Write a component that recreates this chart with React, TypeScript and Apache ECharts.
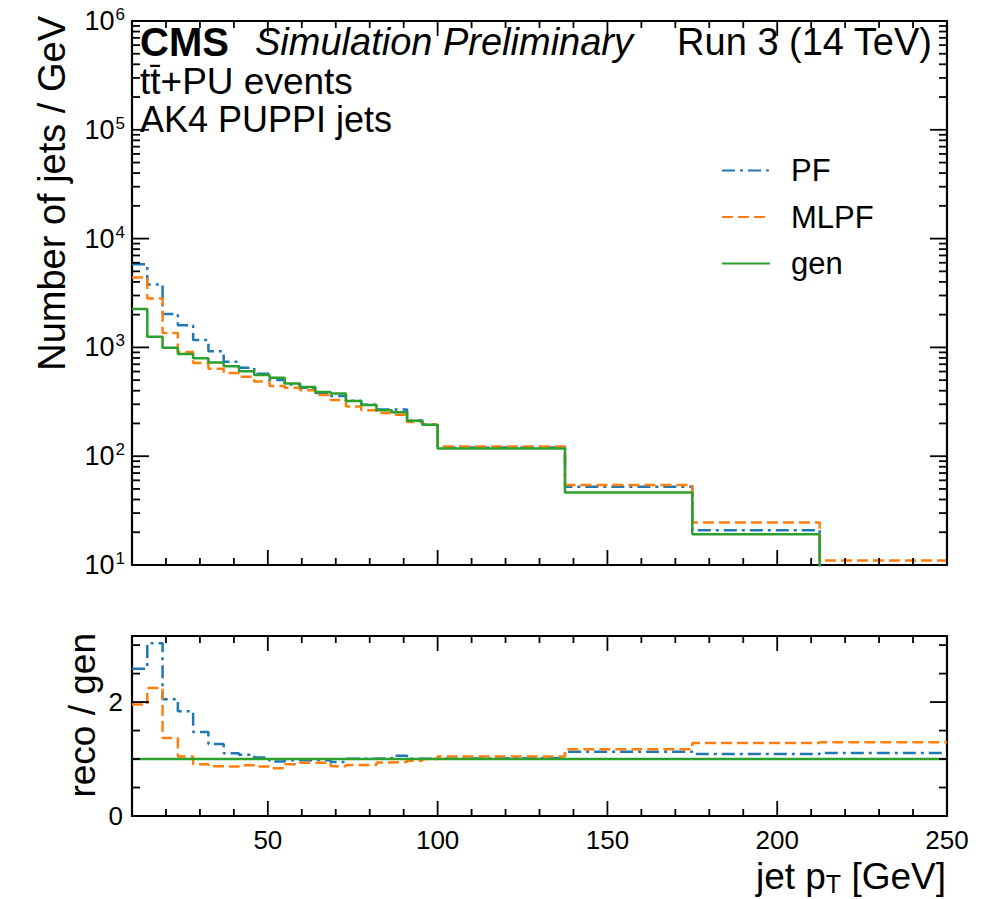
import React, { useEffect, useRef } from "react";
import * as echarts from "echarts";

// ---- data ----
const binEdges = [10, 14.5, 19, 23.5, 28, 32.5, 37, 41.5, 46, 50.5, 55, 59.5, 64, 68.5, 73, 77.5, 82, 86.5, 91, 95.5, 100, 137.5, 175, 212.5, 250];
const genCounts = [2250, 1250, 990, 870, 793, 728, 672, 604, 558, 525, 467, 433, 389, 376, 321, 296, 265, 254, 212, 195, 118, 46.5, 19.2, 8.5];
const pfCounts = [5820, 3790, 2030, 1600, 1170, 920, 740, 650, 572, 502, 457, 425, 380, 357, 323, 297, 268, 269, 213, 196, 120, 52.5, 20.9, 9.4];
const mlpfCounts = [4400, 2810, 1355, 908, 720, 635, 583, 538, 485, 441, 425, 404, 365, 328, 287, 265, 249, 241, 206, 195, 123, 54.4, 24.6, 11.0];
const seriesNames = ["PF", "MLPF", "gen"];
const xTicks = [10, 20, 30, 40, 50, 60, 70, 80, 90, 100, 110, 120, 130, 140, 150, 160, 170, 180, 190, 200, 210, 220, 230, 240, 250];
const xLabelValues = [50, 100, 150, 200, 250];
const logDecades = [1, 2, 3, 4, 5, 6];
const logMinorFactors = [2, 3, 4, 5, 6, 7, 8, 9];
const ratioTicks = [0, 0.5, 1, 1.5, 2, 2.5, 3];
const ratioLabelValues = [0, 2];

const FONT = '"Liberation Sans", Arial, Helvetica, sans-serif';
const COLORS = { PF: "#1f77b4", MLPF: "#ff7f0e", gen: "#2ca02c" };
const DASH = { PF: [13, 5, 3, 5], MLPF: [11, 5], gen: "solid" };

function stairs(counts: number[]) {
  const pts: number[][] = [];
  counts.forEach((c, i) => {
    pts.push([binEdges[i], c]);
    pts.push([binEdges[i + 1], c]);
  });
  return pts;
}

export default function App() {
  const ref = useRef<HTMLDivElement>(null);
  useEffect(() => {
    if (!ref.current) return;
    const chart = echarts.init(ref.current, null, { renderer: "svg" });

    const countsByName: Record<string, number[]> = { PF: pfCounts, MLPF: mlpfCounts, gen: genCounts };

    const ticks0: number[][] = [];
    xTicks.forEach((v) => ticks0.push([v, 100, v % 50 === 0 ? 15 : 7, 0]));
    logDecades.forEach((e) => {
      ticks0.push([100, Math.pow(10, e), 17, 1]);
      if (e < 6) logMinorFactors.forEach((k) => ticks0.push([100, k * Math.pow(10, e), 8, 1]));
    });
    const ticks1: number[][] = [];
    xTicks.forEach((v) => ticks1.push([v, 1, v % 50 === 0 ? 15 : 7, 0]));
    ratioTicks.forEach((v) => ticks1.push([100, v, v % 2 === 0 ? 17 : 8, 1]));

    const tickRender = (params: any, api: any) => {
      const cs = params.coordSys;
      const len = api.value(2);
      const kind = api.value(3);
      const p = api.coord([api.value(0), api.value(1)]);
      const style = { stroke: "#000", lineWidth: 1.8 };
      if (kind === 0) {
        return {
          type: "group",
          children: [
            { type: "line", shape: { x1: p[0], y1: cs.y + cs.height, x2: p[0], y2: cs.y + cs.height - len }, style },
            { type: "line", shape: { x1: p[0], y1: cs.y, x2: p[0], y2: cs.y + len }, style },
          ],
        };
      }
      return {
        type: "group",
        children: [
          { type: "line", shape: { x1: cs.x, y1: p[1], x2: cs.x + len, y2: p[1] }, style },
          { type: "line", shape: { x1: cs.x + cs.width, y1: p[1], x2: cs.x + cs.width - len, y2: p[1] }, style },
        ],
      };
    };

    const lineSeries: any[] = [];
    seriesNames.forEach((name) => {
      lineSeries.push({
        name,
        type: "line",
        xAxisIndex: 0,
        yAxisIndex: 0,
        data: stairs(countsByName[name]),
        showSymbol: false,
        symbol: "none",
        clip: true,
        color: (COLORS as any)[name],
        lineStyle: { width: 2.5, color: (COLORS as any)[name], type: (DASH as any)[name] },
      });
    });
    seriesNames.forEach((name) => {
      const ratio = countsByName[name].map((c, i) => c / genCounts[i]);
      lineSeries.push({
        name,
        type: "line",
        xAxisIndex: 1,
        yAxisIndex: 1,
        data: stairs(ratio),
        showSymbol: false,
        symbol: "none",
        clip: true,
        color: (COLORS as any)[name],
        lineStyle: { width: 2.5, color: (COLORS as any)[name], type: (DASH as any)[name] },
      });
    });

    const labelBase = { fontFamily: FONT, color: "#000" };

    chart.setOption({
      animation: false,
      backgroundColor: "#fff",
      grid: [
        { left: 132, top: 21, width: 815, height: 544, show: true, borderColor: "#000", borderWidth: 2.2, backgroundColor: "transparent" },
        { left: 132, top: 636, width: 815, height: 180, show: true, borderColor: "#000", borderWidth: 2.2, backgroundColor: "transparent" },
      ],
      xAxis: [
        {
          type: "value", gridIndex: 0, min: 10, max: 250, interval: 10,
          axisLine: { show: false }, axisTick: { show: false }, splitLine: { show: false }, axisLabel: { show: false },
        },
        {
          type: "value", gridIndex: 1, min: 10, max: 250, interval: 10,
          axisLine: { show: false }, axisTick: { show: false }, splitLine: { show: false },
          axisLabel: {
            ...labelBase, fontSize: 26, margin: 11, showMaxLabel: true, showMinLabel: true, hideOverlap: false,
            formatter: (v: number) => (xLabelValues.indexOf(Math.round(v)) >= 0 ? String(Math.round(v)) : ""),
          },
        },
      ],
      yAxis: [
        {
          type: "log", logBase: 10, gridIndex: 0, min: 10, max: 1e6, splitNumber: 5,
          axisLine: { show: false }, axisTick: { show: false }, splitLine: { show: false },
          axisLabel: {
            ...labelBase, margin: 7,
            formatter: (v: number) => {
              const e = Math.round(Math.log10(v));
              return logDecades.indexOf(e) >= 0 ? `{b|10}{s|${e}}` : "";
            },
            rich: {
              b: { fontFamily: FONT, fontSize: 27, color: "#000" },
              s: { fontFamily: FONT, fontSize: 17, color: "#000", padding: [0, 0, 13, 1] },
            },
          },
        },
        {
          type: "value", gridIndex: 1, min: 0, max: 3.16, interval: 0.5,
          axisLine: { show: false }, axisTick: { show: false }, splitLine: { show: false },
          axisLabel: {
            ...labelBase, fontSize: 26, margin: 9,
            formatter: (v: number) => (ratioLabelValues.indexOf(v) >= 0 ? String(v) : ""),
          },
        },
      ],
      legend: {
        data: seriesNames,
        orient: "vertical",
        left: 716,
        top: 150,
        itemWidth: 48,
        itemHeight: 16,
        itemGap: 15.5,
        selectedMode: false,
        itemStyle: { opacity: 0 },
        textStyle: { fontFamily: FONT, fontSize: 31, lineHeight: 31, color: "#000", padding: [0, 0, 0, 16] },
      },
      series: [
        ...lineSeries,
        {
          type: "custom", xAxisIndex: 0, yAxisIndex: 0, data: ticks0, renderItem: tickRender,
          dimensions: ["x", "y", "len", "kind"], encode: { x: "x", y: "y" }, silent: true, z: 5,
        },
        {
          type: "custom", xAxisIndex: 1, yAxisIndex: 1, data: ticks1, renderItem: tickRender,
          dimensions: ["x", "y", "len", "kind"], encode: { x: "x", y: "y" }, silent: true, z: 5,
        },
      ],
      graphic: [
        { type: "text", x: 140, y: 42, style: { text: "CMS", fontFamily: FONT, fontSize: 40, fontWeight: "bold", fill: "#000", lineHeight: 30, textVerticalAlign: "middle" } },
        { type: "text", x: 255, y: 42, style: { text: "Simulation Preliminary", fontFamily: FONT, fontSize: 38, fontStyle: "italic", fill: "#000", lineHeight: 30, textVerticalAlign: "middle" } },
        { type: "text", x: 932, y: 42, style: { text: "Run 3 (14 TeV)", fontFamily: FONT, fontSize: 38, fill: "#000", lineHeight: 30, textAlign: "right", textVerticalAlign: "middle" } },
        { type: "text", x: 140, y: 81, style: { text: "tt\u0304+PU events", fontFamily: FONT, fontSize: 37, fill: "#000", lineHeight: 30, textVerticalAlign: "middle" } },
        { type: "text", x: 140, y: 119, style: { text: "AK4 PUPPI jets", fontFamily: FONT, fontSize: 36, fill: "#000", lineHeight: 30, textVerticalAlign: "middle" } },
        { type: "text", x: 52, y: 16, rotation: Math.PI / 2, style: { text: "Number of jets / GeV", fontFamily: FONT, fontSize: 38, fill: "#000", textAlign: "right", textVerticalAlign: "middle" } },
        { type: "text", x: 82, y: 633, rotation: Math.PI / 2, style: { text: "reco / gen", fontFamily: FONT, fontSize: 37, fill: "#000", textAlign: "right", textVerticalAlign: "middle" } },
        {
          type: "text", x: 946, y: 876,
          style: {
            text: "{a|jet p}{s|T}{a| [GeV]}",
            textAlign: "right", textVerticalAlign: "middle",
            rich: {
              a: { fontFamily: FONT, fontSize: 37, lineHeight: 36, fill: "#000" },
              s: { fontFamily: FONT, fontSize: 25, lineHeight: 36, fill: "#000", padding: [16, 0, 0, 0] },
            },
          },
        },
      ],
    });
    return () => chart.dispose();
  }, []);
  return <div ref={ref} style={{ position: "fixed", left: 0, top: 0, width: 985, height: 899 }} />;
}
